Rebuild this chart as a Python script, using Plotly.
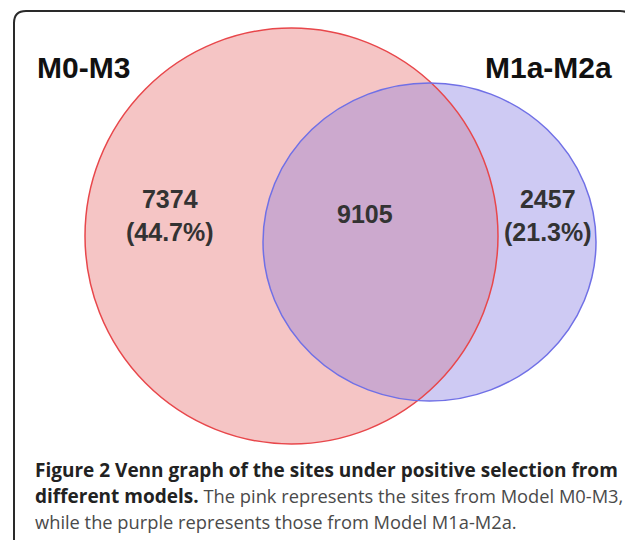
import numpy as np
import plotly.graph_objects as go

# ---- data ----
set_labels = ["M0-M3", "M1a-M2a"]
only_a = 7374
both = 9105
only_b = 2457
caption_bold = ["Figure 2 Venn graph of the sites under positive selection from",
                "different models."]
caption_regular = ["The pink represents the sites from Model M0-M3,",
                   "while the purple represents those from Model M1a-M2a."]

pct_a = only_a / (only_a + both) * 100
pct_b = only_b / (only_b + both) * 100

# ---- layout geometry (page pixel space; page body has 8px margin) ----
W, H = 633, 540
OFF = 8
A = dict(x0=85, x1=498, y0=28, y1=444)   # M0-M3 ellipse box
B = dict(x0=263, x1=596, y0=83, y1=401)  # M1a-M2a ellipse box

PINK_FILL = "#F5C5C5"
BLUE_FILL = "#CECAF3"
LENS_FILL = "#CCA9CE"
RED_LINE = "#E8474B"
BLUE_LINE = "#7070E6"


def ell(box, n=1440):
    cx = (box["x0"] + box["x1"]) / 2
    cy = (box["y0"] + box["y1"]) / 2
    rx = (box["x1"] - box["x0"]) / 2
    ry = (box["y1"] - box["y0"]) / 2
    t = np.linspace(0, 2 * np.pi, n, endpoint=False)
    return cx + rx * np.cos(t), cy + ry * np.sin(t), (cx, cy, rx, ry)


def inside(px, py, p):
    cx, cy, rx, ry = p
    return ((px - cx) / rx) ** 2 + ((py - cy) / ry) ** 2 <= 1


ax_, ay_, pa = ell(A)
bx_, by_, pb = ell(B)
ma = inside(ax_, ay_, pb)
mb = inside(bx_, by_, pa)
lx = np.concatenate([ax_[ma], bx_[mb]])
ly = np.concatenate([ay_[ma], by_[mb]])
mx, my = lx.mean(), ly.mean()
order = np.argsort(np.arctan2(ly - my, lx - mx))
lx, ly = lx[order], ly[order]
lens_path = "M " + " L ".join(f"{x:.2f},{y:.2f}" for x, y in zip(lx, ly)) + " Z"

fig = go.Figure()
fig.add_trace(go.Scatter(x=[OFF, W], y=[OFF, H], mode="markers",
                         marker=dict(opacity=0), hoverinfo="skip", showlegend=False))

shapes = [
    dict(type="circle", xref="x", yref="y", **A, fillcolor=PINK_FILL,
         line=dict(width=0), layer="below"),
    dict(type="circle", xref="x", yref="y", **B, fillcolor=BLUE_FILL,
         line=dict(width=0), layer="below"),
    dict(type="path", xref="x", yref="y", path=lens_path, fillcolor=LENS_FILL,
         line=dict(width=0), layer="below"),
    dict(type="circle", xref="x", yref="y", **A, line=dict(color=RED_LINE, width=1.5)),
    dict(type="circle", xref="x", yref="y", **B, line=dict(color=BLUE_LINE, width=1.5)),
    dict(type="path", xref="x", yref="y",
         path="M 14,560 L 14,23 Q 14,11 26,11 L 620,11 Q 632,11 632,23 L 632,560",
         line=dict(color="#2a2a2a", width=2)),
]

ann = []
lab_font = dict(family="Liberation Sans, Arial, sans-serif", size=30, color="#111")
ann.append(dict(x=83, y=67, text=f"<b>{set_labels[0]}</b>", showarrow=False,
                font=lab_font, xanchor="center", yanchor="middle"))
ann.append(dict(x=548, y=67, text=f"<b>{set_labels[1]}</b>", showarrow=False,
                font=lab_font, xanchor="center", yanchor="middle"))

num_font = dict(family="Liberation Sans, Arial, sans-serif", size=25, color="#333")
ann.append(dict(x=170, y=215, text=f"<b>{only_a}<br>({pct_a:.1f}%)</b>", showarrow=False,
                font=num_font, xanchor="center", yanchor="middle"))
ann.append(dict(x=365, y=214, text=f"<b>{both}</b>", showarrow=False,
                font=num_font, xanchor="center", yanchor="middle"))
ann.append(dict(x=548, y=215, text=f"<b>{only_b}<br>({pct_b:.1f}%)</b>", showarrow=False,
                font=num_font, xanchor="center", yanchor="middle"))

cap_font = dict(family="Open Sans, sans-serif", size=19.0, color="#222")
reg = "<span style='color:#4a4a4a;font-size:18.3px'>{}</span>"
lines = [
    f"<b>{caption_bold[0]}</b>",
    f"<b>{caption_bold[1]}</b> " + reg.format(caption_regular[0]),
    reg.format(caption_regular[1]),
]
for t, y in zip(lines, [470, 496, 521]):
    ann.append(dict(x=33, y=y, text=t, showarrow=False, font=cap_font,
                    xanchor="left", yanchor="middle", align="left"))

fig.update_layout(
    width=W, height=H, margin=dict(l=0, r=0, t=0, b=0),
    paper_bgcolor="white", plot_bgcolor="white",
    xaxis=dict(range=[OFF, W + OFF], visible=False, fixedrange=True),
    yaxis=dict(range=[H + OFF, OFF], visible=False, fixedrange=True),
    shapes=shapes, annotations=ann, showlegend=False,
)
fig.write_html("out.html")
